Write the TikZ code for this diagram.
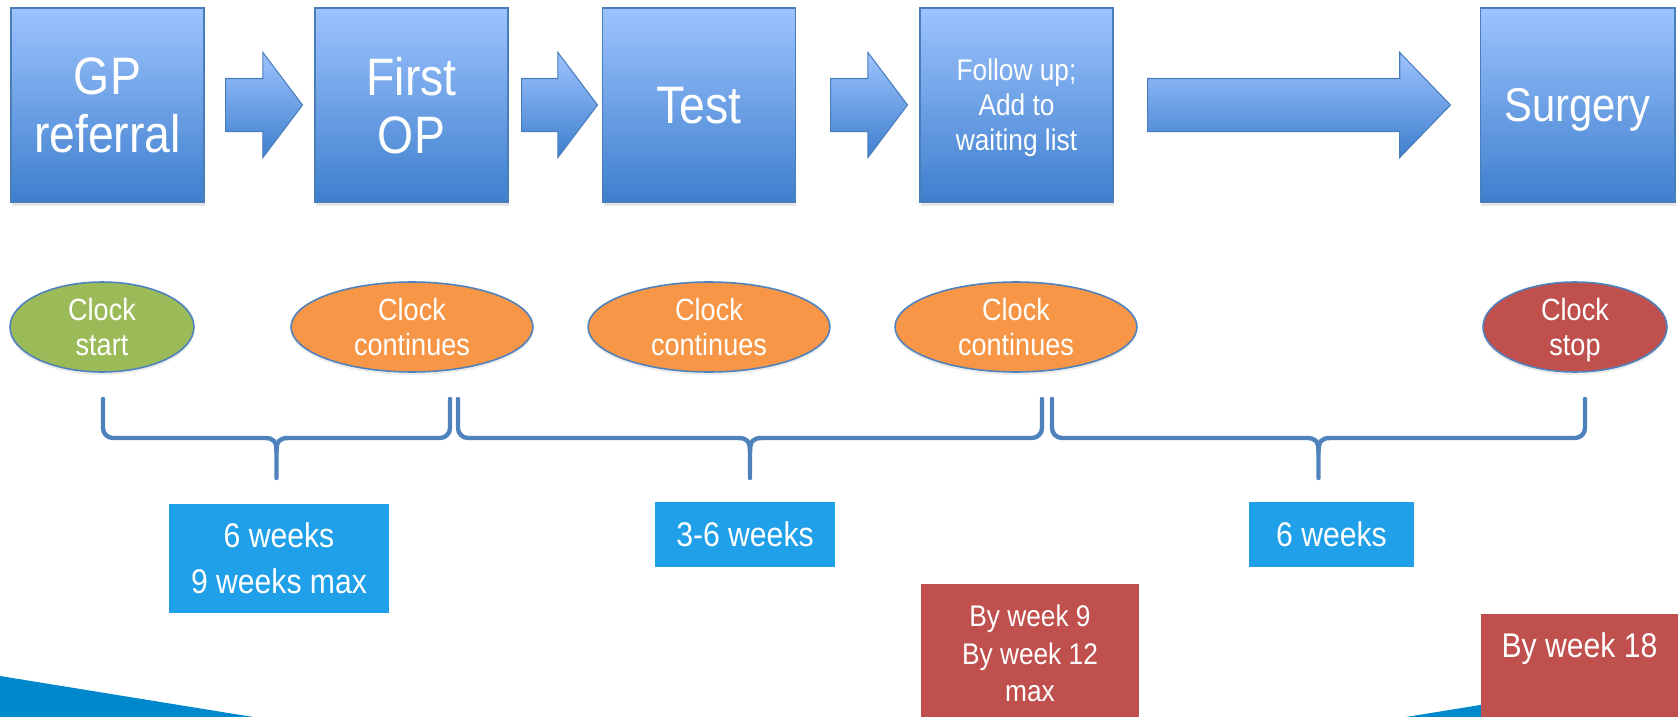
\documentclass[tikz,border=0pt]{standalone}
\usepackage{fontspec}
\setmainfont[FakeStretch=0.88]{Liberation Sans}
\usetikzlibrary{shapes.geometric,shapes.arrows,shadows}

\definecolor{boxtop}{RGB}{157,195,254}
\definecolor{boxbot}{RGB}{62,127,205}
\definecolor{boxline}{RGB}{74,126,187}
\definecolor{clockline}{RGB}{79,129,189}
\definecolor{clockgreen}{RGB}{155,187,89}
\definecolor{clockorange}{RGB}{247,150,70}
\definecolor{clockred}{RGB}{192,80,77}
\definecolor{skyblue}{RGB}{32,160,232}
\definecolor{swoosh}{RGB}{0,136,204}

\tikzset{
  stage/.style={draw=boxline, line width=0.6pt, top color=boxtop, bottom color=boxbot,
    minimum width=3.86cm, minimum height=3.88cm, inner sep=0pt, align=center, text=white,
    text depth=0pt, drop shadow={opacity=0.2, shadow xshift=0.02cm, shadow yshift=-0.08cm}},
  stagearrow/.style={single arrow, draw=boxline, line width=0.6pt, top color=boxtop, bottom color=boxbot,
    inner xsep=0pt, inner ysep=0.52cm, minimum width=0pt, single arrow head extend=0.52cm,
    anchor=tail, minimum height=#1},
  clock/.style={ellipse, draw=clockline, line width=0.9pt, minimum height=1.8cm, inner sep=0pt,
    align=center, text=white, text depth=0pt, font=\fontsize{17.5}{20}\selectfont,
    drop shadow={opacity=0.15, shadow xshift=0pt, shadow yshift=-0.06cm}},
  weeks/.style={fill=skyblue, text=white, align=center, inner sep=0pt,
    font=\fontsize{19.5}{26}\selectfont},
  target/.style={fill=clockred, text=white, align=center, inner sep=0pt},
  bracepen/.style={draw=clockline, line width=2.5pt, line cap=round, line join=round}
}

% brace from x=#1 to x=#2
\newcommand{\clockbrace}[2]{%
  \draw[bracepen] (#1,399) -- (#1,428) to[out=-90,in=180] ({#1+10},438)
    -- ({(#1+#2)/2-12},438) .. controls ({(#1+#2)/2-3},438) and ({(#1+#2)/2},441) .. ({(#1+#2)/2},452)
    -- ({(#1+#2)/2},478);
  \draw[bracepen] ({(#1+#2)/2},452) .. controls ({(#1+#2)/2},441) and ({(#1+#2)/2+3},438) .. ({(#1+#2)/2+12},438)
    -- ({#2-10},438) to[out=0,in=-90] (#2,428) -- (#2,399);
}

\begin{document}
\begin{tikzpicture}[x=0.02cm, y=-0.02cm]
  \useasboundingbox (0,0) rectangle (1678,717);

  % swooshes at the bottom
  \fill[swoosh] (0,676) -- (253,717) -- (0,717) -- cycle;
  \fill[swoosh] (1406,717) -- (1678,673) -- (1678,717) -- cycle;

  % stages
  \node[stage, font=\fontsize{30}{33}\selectfont] (gp) at (107.5,105) {GP\\referral};
  \node[stage, font=\fontsize{30}{33}\selectfont] (op) at (411.5,105) {First\\OP};
  \node[stage, font=\fontsize{30}{33}\selectfont] (test) at (699,105) {Test};
  \node[stage, font=\fontsize{17}{20}\selectfont] (follow) at (1016.5,105) {Follow up;\\Add to\\waiting list};
  \node[stage, minimum width=3.9cm, font=\fontsize{27}{30}\selectfont] (surgery) at (1577.5,105) {Surgery};

  \node[stagearrow=1.54cm, single arrow tip angle=106] (a1) at (225,105) {};
  \node[stagearrow=1.52cm, single arrow tip angle=106] (a2) at (521,105) {};
  \node[stagearrow=1.54cm, single arrow tip angle=106] (a3) at (830,105) {};
  \node[stagearrow=6.06cm, single arrow tip angle=92] (a4) at (1147,105) {};

  % clocks
  \node[clock, fill=clockgreen, minimum width=3.68cm] (start) at (102,327) {Clock\\start};
  \node[clock, fill=clockorange, minimum width=4.84cm] (cont1) at (412,327) {Clock\\continues};
  \node[clock, fill=clockorange, minimum width=4.84cm] (cont2) at (709,327) {Clock\\continues};
  \node[clock, fill=clockorange, minimum width=4.84cm] (cont3) at (1016,327) {Clock\\continues};
  \node[clock, fill=clockred, minimum width=3.68cm] (stop) at (1575,327) {Clock\\stop};

  % braces
  \clockbrace{103}{450}
  \clockbrace{458}{1042}
  \clockbrace{1052}{1585}

  % durations
  \node[weeks, minimum width=4.4cm, minimum height=2.18cm] (wk1) at (279,558.5) {6 weeks\\9 weeks max};
  \node[weeks, minimum width=3.6cm, minimum height=1.3cm] (wk2) at (745,534.5) {3-6 weeks};
  \node[weeks, minimum width=3.3cm, minimum height=1.3cm] (wk3) at (1331.5,534.5) {6 weeks};

  % deadlines
  \node[target, minimum width=4.36cm, minimum height=2.78cm, font=\fontsize{17}{21.3}\selectfont]
    (by12) at (1030,653.5) {By week 9\\By week 12\\max};
  \node[target, minimum width=3.94cm, inner ysep=0.36cm, text depth=2cm, anchor=north,
    font=\fontsize{19.5}{23}\selectfont] (by18) at (1579.5,614) {By week 18};
\end{tikzpicture}
\end{document}
